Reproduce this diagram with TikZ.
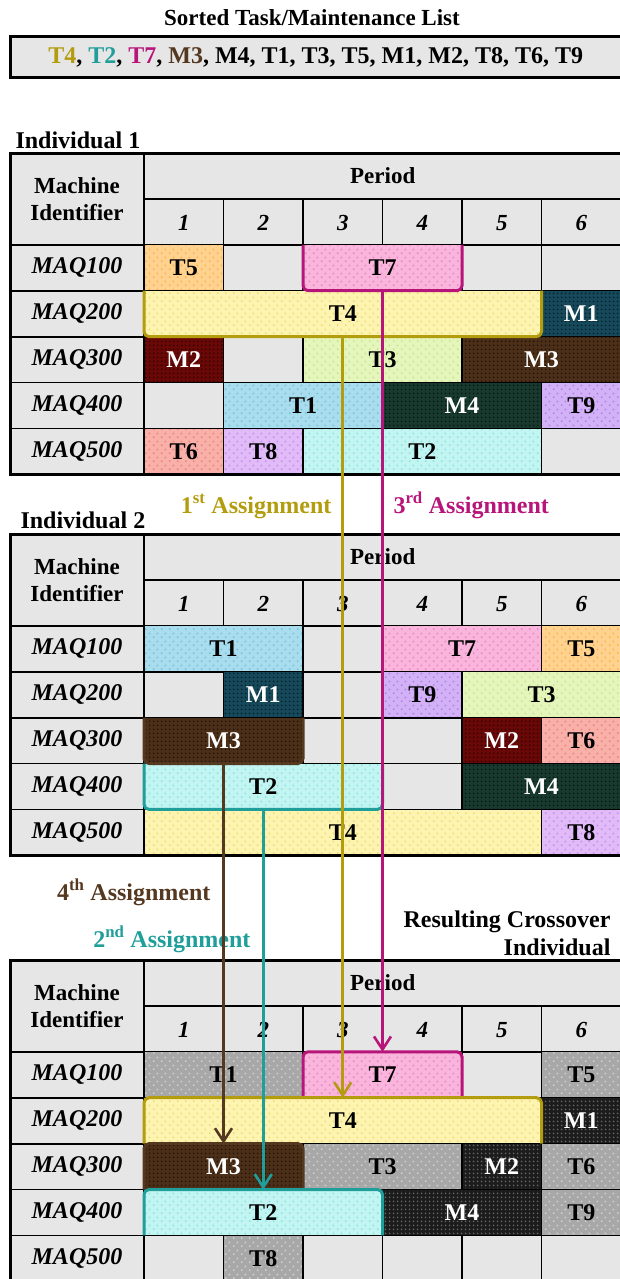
\documentclass[tikz,border=0pt]{standalone}
\usepackage{fontspec}
\setmainfont{Liberation Serif}
\usepackage{tikz}
\usetikzlibrary{arrows.meta,patterns}
\definecolor{cellbg}{HTML}{E6E6E6}
\definecolor{goldx}{HTML}{B39C0D}
\definecolor{magx}{HTML}{B8157A}
\definecolor{tealx}{HTML}{1F9E9A}
\definecolor{brownx}{HTML}{553820}
\definecolor{t1c}{HTML}{A9DCEC}\definecolor{t1d}{HTML}{72C3DE}
\definecolor{t2c}{HTML}{C2F5F2}\definecolor{t2d}{HTML}{86E3DE}
\definecolor{t3c}{HTML}{E5F6BD}\definecolor{t3d}{HTML}{C5E487}
\definecolor{t4c}{HTML}{FDF4B2}\definecolor{t4d}{HTML}{EFD96A}
\definecolor{t5c}{HTML}{FFD38F}\definecolor{t5d}{HTML}{F9B04E}
\definecolor{t6c}{HTML}{F8B0A9}\definecolor{t6d}{HTML}{EC847A}
\definecolor{t7c}{HTML}{F9B5DB}\definecolor{t7d}{HTML}{EB86C3}
\definecolor{t8c}{HTML}{E1BBF8}\definecolor{t8d}{HTML}{C68EEE}
\definecolor{t9c}{HTML}{D3B1F6}\definecolor{t9d}{HTML}{AE82E6}
\definecolor{m1c}{HTML}{16495A}\definecolor{m1d}{HTML}{05202A}
\definecolor{m2c}{HTML}{6A0808}\definecolor{m2d}{HTML}{330000}
\definecolor{m3c}{HTML}{4C2F19}\definecolor{m3d}{HTML}{241207}
\definecolor{m4c}{HTML}{183A2E}\definecolor{m4d}{HTML}{07170F}
\definecolor{gtc}{HTML}{A8A8A8}\definecolor{gtd}{HTML}{D2D2D2}
\definecolor{gmc}{HTML}{1C1C1C}\definecolor{gmd}{HTML}{666666}
\pgfdeclarepatternformonly{sdots}{\pgfqpoint{0pt}{0pt}}{\pgfqpoint{8pt}{8pt}}{\pgfqpoint{8pt}{8pt}}{%
  \pgfpathcircle{\pgfqpoint{2pt}{2pt}}{1.1pt}%
  \pgfpathcircle{\pgfqpoint{6pt}{6pt}}{1.1pt}%
  \pgfusepath{fill}}
\pgfdeclarepatternformonly{ddots}{\pgfqpoint{0pt}{0pt}}{\pgfqpoint{4pt}{4pt}}{\pgfqpoint{4pt}{4pt}}{%
  \pgfpathcircle{\pgfqpoint{2pt}{2pt}}{1.1pt}%
  \pgfusepath{fill}}
\tikzset{
  gl/.style={line width=1.8pt,black},
  ob/.style={line width=3pt,black},
  hd/.style={align=center,font=\fontsize{23}{27}\selectfont\bfseries},
  rl/.style={font=\fontsize{24}{28}\selectfont\bfseries\itshape},
  blk/.style={draw=black,line width=1.2pt,inner sep=0pt,outer sep=0pt,minimum height=45.9pt,font=\fontsize{24}{28}\selectfont\bfseries},
  tk/.style 2 args={blk,preaction={fill=#1},pattern=sdots,pattern color=#2},
  mt/.style 2 args={blk,preaction={fill=#1},pattern=ddots,pattern color=#2,text=white},
  t1/.style={tk={t1c}{t1d}}, t2/.style={tk={t2c}{t2d}}, t3/.style={tk={t3c}{t3d}},
  t4/.style={tk={t4c}{t4d}}, t5/.style={tk={t5c}{t5d}}, t6/.style={tk={t6c}{t6d}},
  t7/.style={tk={t7c}{t7d}}, t8/.style={tk={t8c}{t8d}}, t9/.style={tk={t9c}{t9d}},
  m1/.style={mt={m1c}{m1d}}, m2/.style={mt={m2c}{m2d}},
  m3/.style={mt={m3c}{m3d}}, m4/.style={mt={m4c}{m4d}},
  gt/.style={tk={gtc}{gtd}}, gm/.style={mt={gmc}{gmd}},
  brk/.style={line width=3pt,rounded corners=5pt},
  arw/.style={line width=2.6pt,-{Straight Barb[length=13pt,width=17pt]}},
  lbl/.style={font=\fontsize{24}{28}\selectfont\bfseries}
}
\begin{document}
\begin{tikzpicture}[x=1pt,y=-1pt]
\useasboundingbox (0,0) rectangle (619,1279);
% sorted list
\node[lbl,font=\fontsize{23}{27}\selectfont\bfseries,anchor=base] (ttl) at (312,26) {Sorted Task/Maintenance List};
\node[lbl,draw=black,line width=3pt,fill=cellbg,minimum width=611.5pt,minimum height=41pt,inner sep=0pt] (lst) at (315.75,57.5)
  {\textcolor{goldx}{T4}, \textcolor{tealx}{T2}, \textcolor{magx}{T7}, \textcolor{brownx}{M3}, M4, T1, T3, T5, M1, M2, T8, T6, T9};
\node[lbl,anchor=base west] (ind1) at (12,148) {Individual 1};
\node[lbl,anchor=base west] (ind2) at (17,528) {Individual 2};
% empty tables
\foreach \tp/\ix in {153/1,534/2,960/3}{
  \fill[cellbg] (10,\tp) rectangle (621.5,{\tp+7*45.9});
  \draw[gl] (144,{\tp+45.9}) -- (621.5,{\tp+45.9});
  \foreach \k in {2,...,6} \draw[gl] (10,{\tp+\k*45.9}) -- (621.5,{\tp+\k*45.9});
  \draw[gl] (144,\tp) -- (144,{\tp+7*45.9});
  \foreach \k in {1,...,5} \draw[gl] ({144+\k*79.5},{\tp+45.9}) -- ({144+\k*79.5},{\tp+7*45.9});
  \node[hd] (mid\ix) at (77,{\tp+46.5}) {Machine\\Identifier};
  \node[hd] (per\ix) at (382.75,{\tp+23}) {Period};
  \foreach \k in {1,...,6} \node[hd,font=\fontsize{23}{27}\selectfont\bfseries\itshape] (n\ix\k) at ({144+(\k-0.5)*79.5},{\tp+70}) {\k};
  \foreach \k in {1,...,5} \node[rl] (maq\ix\k) at (77,{\tp+(\k+1.5)*45.9}) {MAQ\k00};
}
% individual 1
\foreach \nm/\c/\s/\r/\st/\lb in {a-T5/1/1/1/t5/T5,a-T7/3/2/1/t7/T7,a-T4/1/5/2/t4/T4,a-M1/6/1/2/m1/M1,
  a-M2/1/1/3/m2/M2,a-T3/3/2/3/t3/T3,a-M3/5/2/3/m3/M3,a-T1/2/2/4/t1/T1,a-M4/4/2/4/m4/M4,a-T9/6/1/4/t9/T9,
  a-T6/1/1/5/t6/T6,a-T8/2/1/5/t8/T8,a-T2/3/3/5/t2/T2}
  \node[\st,minimum width=\s*79.5pt] (\nm) at ({144+(\c-1+\s/2)*79.5},{153+(\r+1.5)*45.9}) {\lb};
% individual 2
\foreach \nm/\c/\s/\r/\st/\lb in {b-T1/1/2/1/t1/T1,b-T7/4/2/1/t7/T7,b-T5/6/1/1/t5/T5,
  b-M1/2/1/2/m1/M1,b-T9/4/1/2/t9/T9,b-T3/5/2/2/t3/T3,b-M3/1/2/3/m3/M3,b-M2/5/1/3/m2/M2,b-T6/6/1/3/t6/T6,
  b-T2/1/3/4/t2/T2,b-M4/5/2/4/m4/M4,b-T4/1/5/5/t4/T4,b-T8/6/1/5/t8/T8}
  \node[\st,minimum width=\s*79.5pt] (\nm) at ({144+(\c-1+\s/2)*79.5},{534+(\r+1.5)*45.9}) {\lb};
% crossover individual
\foreach \nm/\c/\s/\r/\st/\lb in {c-T1/1/2/1/gt/T1,c-T7/3/2/1/t7/T7,c-T5/6/1/1/gt/T5,
  c-T4/1/5/2/t4/T4,c-M1/6/1/2/gm/M1,c-M3/1/2/3/m3/M3,c-T3/3/2/3/gt/T3,c-M2/5/1/3/gm/M2,c-T6/6/1/3/gt/T6,
  c-T2/1/3/4/t2/T2,c-M4/4/2/4/gm/M4,c-T9/6/1/4/gt/T9,c-T8/2/1/5/gt/T8}
  \node[\st,minimum width=\s*79.5pt] (\nm) at ({144+(\c-1+\s/2)*79.5},{960+(\r+1.5)*45.9}) {\lb};
\foreach \tp in {153,534,960} \draw[ob] (10,\tp) rectangle (621.5,{\tp+7*45.9});
% picked genes
\draw[brk,magx] (a-T7.north west) |- (a-T7.south) -| (a-T7.north east);
\draw[brk,goldx] (a-T4.north west) |- (a-T4.south) -| (a-T4.north east);
\draw[brk,brownx] (b-M3.north west) |- (b-M3.south) -| (b-M3.north east);
\draw[brk,tealx] (b-T2.north west) |- (b-T2.south) -| (b-T2.north east);
\draw[brk,magx] (c-T7.south west) |- (c-T7.north) -| (c-T7.south east);
\draw[brk,goldx] (c-T4.south west) |- (c-T4.north) -| (c-T4.south east);
\draw[brk,brownx] (c-M3.south west) |- (c-M3.north) -| (c-M3.south east);
\draw[brk,tealx] (c-T2.south west) |- (c-T2.north) -| (c-T2.south east);
% labels
\node[lbl,goldx,anchor=base east] (as1) at (335,513) {1\textsuperscript{st} Assignment};
\node[lbl,magx,anchor=base west] (as3) at (390,513) {3\textsuperscript{rd} Assignment};
\node[lbl,brownx,anchor=base east] (as4) at (214,900) {4\textsuperscript{th} Assignment};
\node[lbl,tealx,anchor=base east] (as2) at (254,947) {2\textsuperscript{nd} Assignment};
\node[lbl,align=right,anchor=east] (res) at (614,933) {Resulting Crossover\\Individual};
% assignments
\draw[arw,goldx] (a-T4.south) -- (c-T4.north);
\draw[arw,magx] (a-T7.south) -- (c-T7.north);
\draw[arw,brownx] (b-M3.south) -- (c-M3.north);
\draw[arw,tealx] (b-T2.south) -- (c-T2.north);
\end{tikzpicture}
\end{document}
